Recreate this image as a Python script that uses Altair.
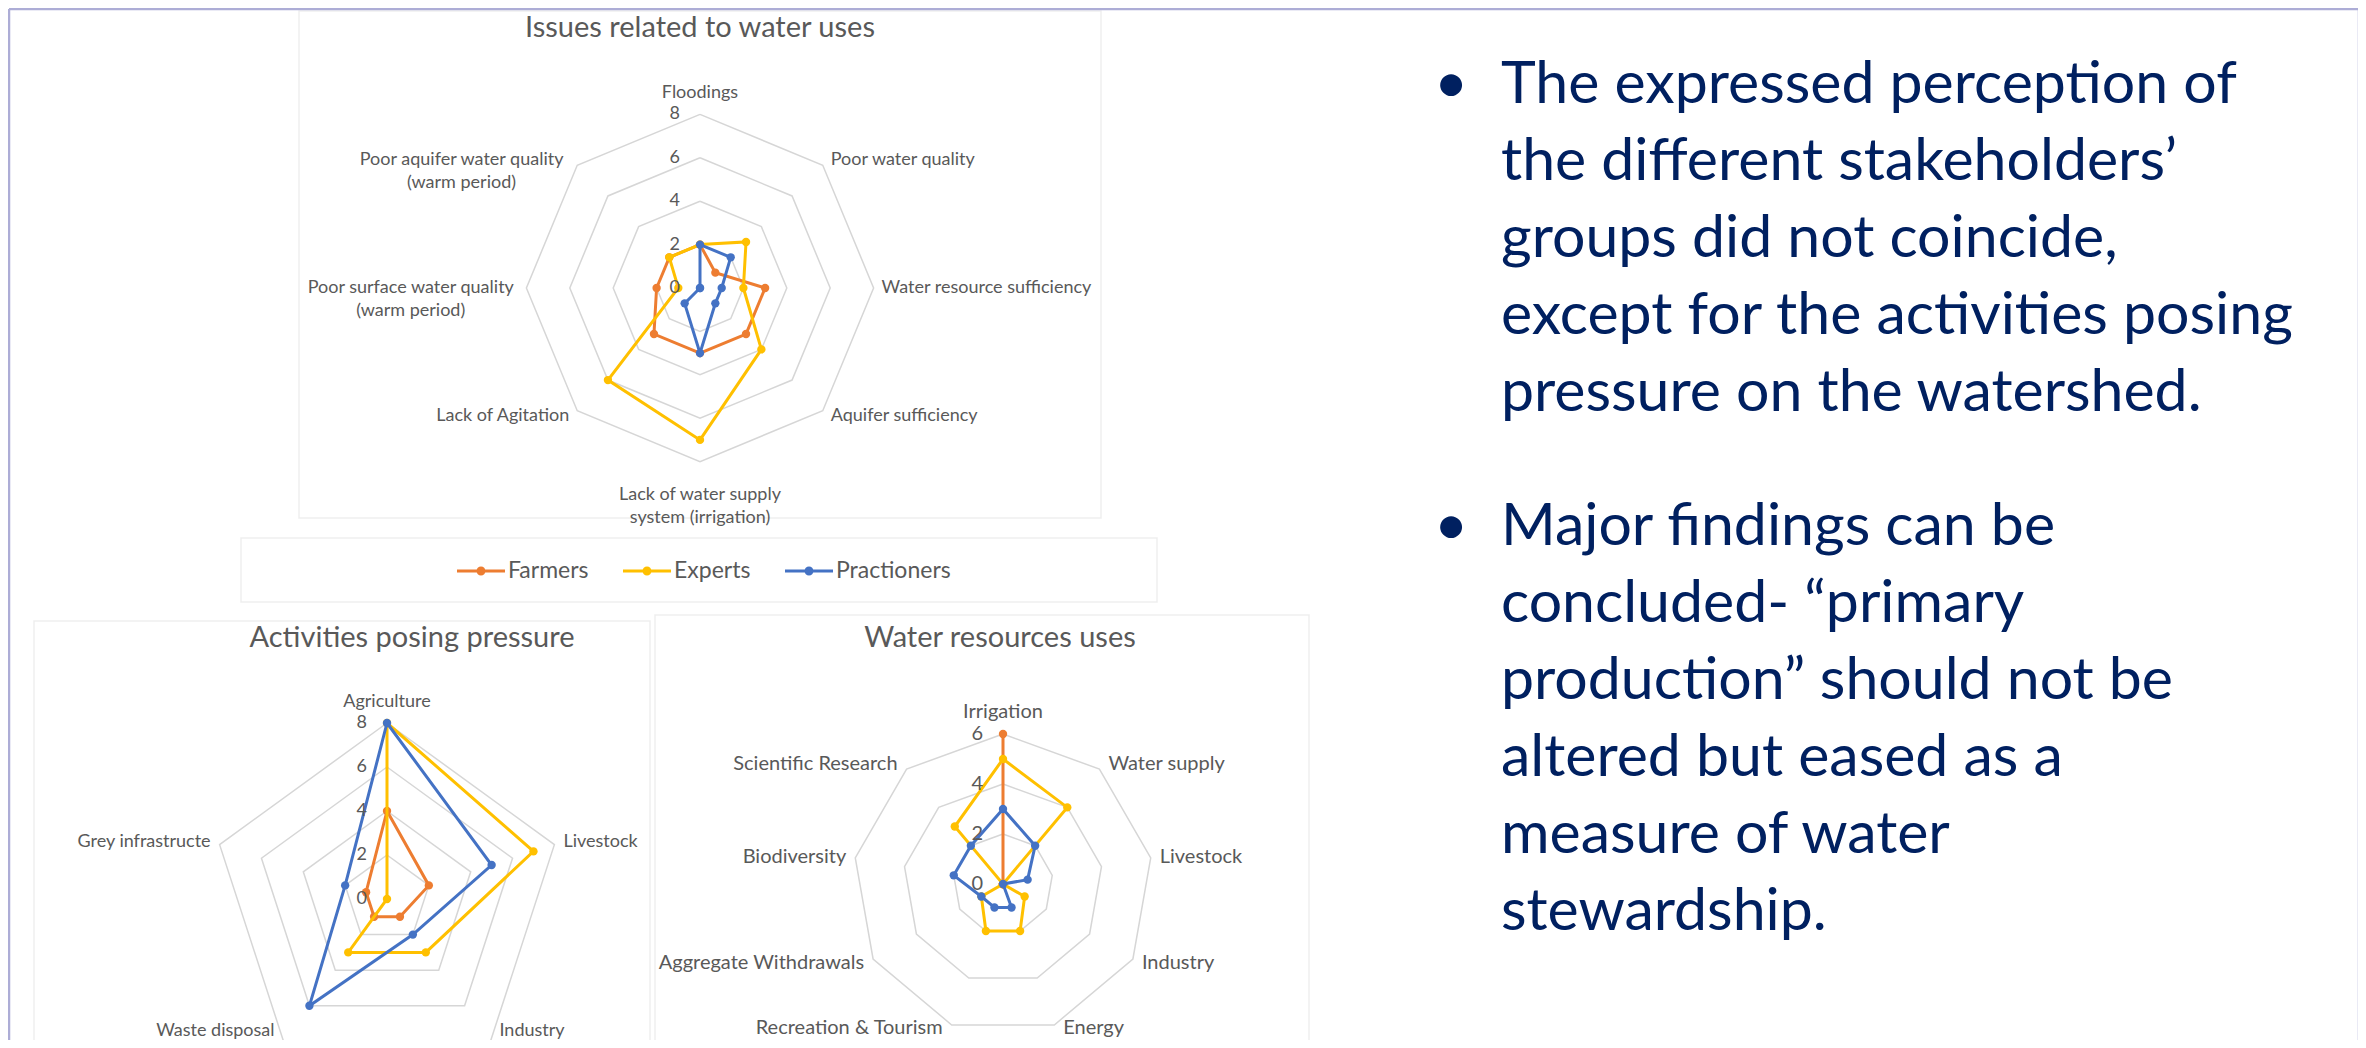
import math
import altair as alt
import pandas as pd

# ---------------- data ----------------
SERIES = ["Farmers", "Experts", "Practioners"]
SERIES_COLORS = ["#ED7D31", "#FFC000", "#4472C4"]

ISSUES_TITLE = "Issues related to water uses"
ISSUES_CATEGORIES = ["Floodings", "Poor water quality", "Water resource sufficiency",
                     "Aquifer sufficiency", "Lack of water supply\nsystem (irrigation)",
                     "Lack of Agitation", "Poor surface water quality\n(warm period)",
                     "Poor aquifer water quality\n(warm period)"]
ISSUES_FARMERS = [2, 1, 3, 3, 3, 3, 2, 2]
ISSUES_EXPERTS = [2, 3, 2, 4, 7, 6, 1, 2]
ISSUES_PRACTIONERS = [2, 2, 1, 1, 3, 1, 0, 0]
ISSUES_TICKS = [0, 2, 4, 6, 8]

ACTIVITIES_TITLE = "Activities posing pressure"
ACTIVITIES_CATEGORIES = ["Agriculture", "Livestock", "Industry", "Waste disposal",
                         "Grey infrastructe"]
ACTIVITIES_FARMERS = [4, 2, 1, 1, 1]
ACTIVITIES_EXPERTS = [8, 7, 3, 3, 0]
ACTIVITIES_PRACTIONERS = [8, 5, 2, 6, 2]
ACTIVITIES_TICKS = [0, 2, 4, 6, 8]

USES_TITLE = "Water resources uses"
USES_CATEGORIES = ["Irrigation", "Water supply", "Livestock", "Industry", "Energy",
                   "Recreation & Tourism", "Aggregate Withdrawals", "Biodiversity",
                   "Scientific Research"]
USES_FARMERS = [6, 0, 0, 0, 0, 0, 0, 0, 0]
USES_EXPERTS = [5, 4, 0, 1, 2, 2, 1, 0, 3]
USES_PRACTIONERS = [3, 2, 1, 0, 1, 1, 1, 2, 2]
USES_TICKS = [0, 2, 4, 6]

BULLET_1 = ["The expressed perception of", "the different stakeholders\u2019",
            "groups did not coincide,", "except for the activities posing",
            "pressure on the watershed."]
BULLET_2 = ["Major findings can be", "concluded- \u201cprimary",
            "production\u201d should not be", "altered but eased as a",
            "measure of water", "stewardship."]

# ---------------- layout / style ----------------
M = 8
W, H = 2350, 1032
FONT = "Lato"
GREY = "#595959"
RING_COLOR = "#d6d6d6"
NAVY = "#002060"
LH = 23

color_scale = alt.Scale(domain=SERIES, range=SERIES_COLORS)
LEGEND_PATH = ("M-1,-0.0625L1,-0.0625L1,0.0625L-1,0.0625Z "
               "M-0.1875,0A0.1875,0.1875,0,1,1,0.1875,0A0.1875,0.1875,0,1,1,-0.1875,0Z")
legend = alt.Legend(
    orient="none", legendX=449, legendY=539, direction="horizontal", title=None,
    symbolType=LEGEND_PATH, symbolSize=2304, symbolStrokeWidth=0, symbolOpacity=1,
    labelFont=FONT, labelFontSize=23, labelColor=GREY, labelOffset=3,
    columnPadding=34, padding=0,
)
COLOR = alt.Color("series:N", scale=color_scale, legend=legend)


def radar(cats, series_vals, ticks, cx, cy, unit, fs, side_gap, low_shift):
    n = len(cats)
    rmax = max(ticks)
    xsc = alt.Scale(domain=[(M - cx) / unit, (M + W - cx) / unit], nice=False, zero=False)
    ysc = alt.Scale(domain=[(cy - M - H) / unit, (cy - M) / unit], nice=False, zero=False)

    def xy(xf="x", yf="y"):
        return dict(x=alt.X(f"{xf}:Q", scale=xsc, axis=None),
                    y=alt.Y(f"{yf}:Q", scale=ysc, axis=None))

    calc = dict(x=f"datum.v * sin(2 * PI * datum.i / {n})",
                y=f"datum.v * cos(2 * PI * datum.i / {n})")

    ring_df = pd.DataFrame([{"ring": r, "i": i, "v": r}
                            for r in ticks if r > 0 for i in range(n + 1)])
    rings = (alt.Chart(ring_df).mark_line(color=RING_COLOR, strokeWidth=1.5)
             .transform_calculate(**calc)
             .encode(**xy(), detail="ring:N", order="i:Q"))
    layers = [rings]

    for name, vals in zip(SERIES, series_vals):
        df = pd.DataFrame({"series": name, "i": list(range(n + 1)),
                           "v": list(vals) + [vals[0]]})
        base = alt.Chart(df).transform_calculate(**calc)
        line = base.mark_line(strokeWidth=3).encode(**xy(), order="i:Q", color=COLOR)
        pts = (base.transform_filter(f"datum.i < {n}")
               .mark_circle(size=70, opacity=1).encode(**xy(), color=COLOR))
        layers += [line, pts]

    rows = []
    for i, cat in enumerate(cats):
        th = 2 * math.pi * i / n
        s, c = math.sin(th), math.cos(th)
        vx, vy = rmax * s, rmax * c
        lines = cat.split("\n")
        if abs(s) < 1e-9:
            if c > 0:
                rows.append(dict(label=cat, kind="top", lx=0.0, ly=vy + 16 / unit))
            else:
                block = len(lines) * LH
                rows.append(dict(label=cat, kind="mid", lx=0.0,
                                 ly=vy - (10 + block / 2) / unit))
        else:
            sign = 1 if s > 0 else -1
            shift = low_shift if c < -0.75 else 7
            ly = vy + shift * c / unit
            if len(lines) > 1:
                half = max(len(t) for t in lines) * 0.46 * fs / 2
                rows.append(dict(label=cat, kind="mid",
                                 lx=vx + sign * (side_gap + half) / unit, ly=ly))
            else:
                rows.append(dict(label=cat, kind="left" if sign > 0 else "right",
                                 lx=vx + sign * side_gap / unit, ly=ly))
    lab_df = pd.DataFrame(rows)
    specs = {"top": ("center", "alphabetic"), "mid": ("center", "middle"),
             "left": ("left", "middle"), "right": ("right", "middle")}
    for kind, (al, bl) in specs.items():
        sub = lab_df[lab_df.kind == kind]
        if len(sub) == 0:
            continue
        layers.append(alt.Chart(sub).mark_text(
            font=FONT, fontSize=fs, color=GREY, align=al, baseline=bl,
            lineBreak="\n", lineHeight=LH).encode(**xy("lx", "ly"), text="label:N"))

    tick_df = pd.DataFrame({"t": ticks, "zero": [0] * len(ticks)})
    layers.append(alt.Chart(tick_df).mark_text(
        font=FONT, fontSize=fs, color=GREY, align="right", baseline="middle", dx=-20
    ).encode(**xy("zero", "t"), text="t:Q"))
    return alt.layer(*layers)


r1 = radar(ISSUES_CATEGORIES, [ISSUES_FARMERS, ISSUES_EXPERTS, ISSUES_PRACTIONERS],
           ISSUES_TICKS, cx=700, cy=288, unit=21.7, fs=18, side_gap=8, low_shift=7)
r2 = radar(ACTIVITIES_CATEGORIES, [ACTIVITIES_FARMERS, ACTIVITIES_EXPERTS, ACTIVITIES_PRACTIONERS],
           ACTIVITIES_TICKS, cx=387, cy=899, unit=22, fs=18, side_gap=9, low_shift=-13)
r3 = radar(USES_CATEGORIES, [USES_FARMERS, USES_EXPERTS, USES_PRACTIONERS],
           USES_TICKS, cx=1003, cy=884, unit=25, fs=20, side_gap=9, low_shift=3)

# ---------------- slide decoration & text (pixel coordinates) ----------------
PX = alt.Scale(domain=[M, M + W], nice=False, zero=False)
PY = alt.Scale(domain=[M, M + H], nice=False, zero=False, reverse=True)


def pxy(xf="x", yf="y"):
    return dict(x=alt.X(f"{xf}:Q", scale=PX, axis=None), y=alt.Y(f"{yf}:Q", scale=PY, axis=None))


border_df = pd.DataFrame({"x": [9, 9, 2359], "x2": [2359, 9, 2359],
                          "y": [9, 9, 9], "y2": [9, 1048, 1048]})
border = alt.Chart(border_df).mark_rule(color="#adadd6", strokeWidth=2.5).encode(
    **pxy(), x2="x2:Q", y2="y2:Q")

box_df = pd.DataFrame({"x": [299, 241, 34, 655], "x2": [1101, 1157, 650, 1309],
                       "y": [11, 538, 621, 615], "y2": [518, 602, 1060, 1060]})
boxes = alt.Chart(box_df).mark_rect(fillOpacity=0, stroke="#efefef", strokeWidth=1.5).encode(
    **pxy(), x2="x2:Q", y2="y2:Q")

title_df = pd.DataFrame({"text": [ISSUES_TITLE, ACTIVITIES_TITLE, USES_TITLE],
                         "x": [700, 412, 1000], "y": [28, 638, 638]})
titles = alt.Chart(title_df).mark_text(font=FONT, fontSize=29, color=GREY, align="center",
                                       baseline="middle").encode(**pxy(), text="text:N")

para_df = pd.DataFrame({"text": ["\n".join(BULLET_1), "\n".join(BULLET_2)],
                        "x": [1501, 1501], "y": [103, 545]})
paras = alt.Chart(para_df).mark_text(font=FONT, fontSize=59, color=NAVY, align="left",
                                     baseline="alphabetic", lineBreak="\n",
                                     lineHeight=77).encode(**pxy(), text="text:N")
bul_df = pd.DataFrame({"text": ["\u2022", "\u2022"], "x": [1451, 1451], "y": [103, 545]})
bullets = alt.Chart(bul_df).mark_text(font=FONT, fontSize=59, color=NAVY, align="center",
                                      baseline="alphabetic").encode(**pxy(), text="text:N")

deco = alt.layer(boxes, border, titles, paras, bullets)

chart = (alt.layer(deco, r1, r2, r3)
         .resolve_scale(x="independent", y="independent")
         .properties(width=W, height=H, padding=0, background="white",
                     autosize=alt.AutoSizeParams(type="none"))
         .configure_view(strokeWidth=0))

chart.save("out.html", embed_options={"renderer": "svg", "actions": False})
